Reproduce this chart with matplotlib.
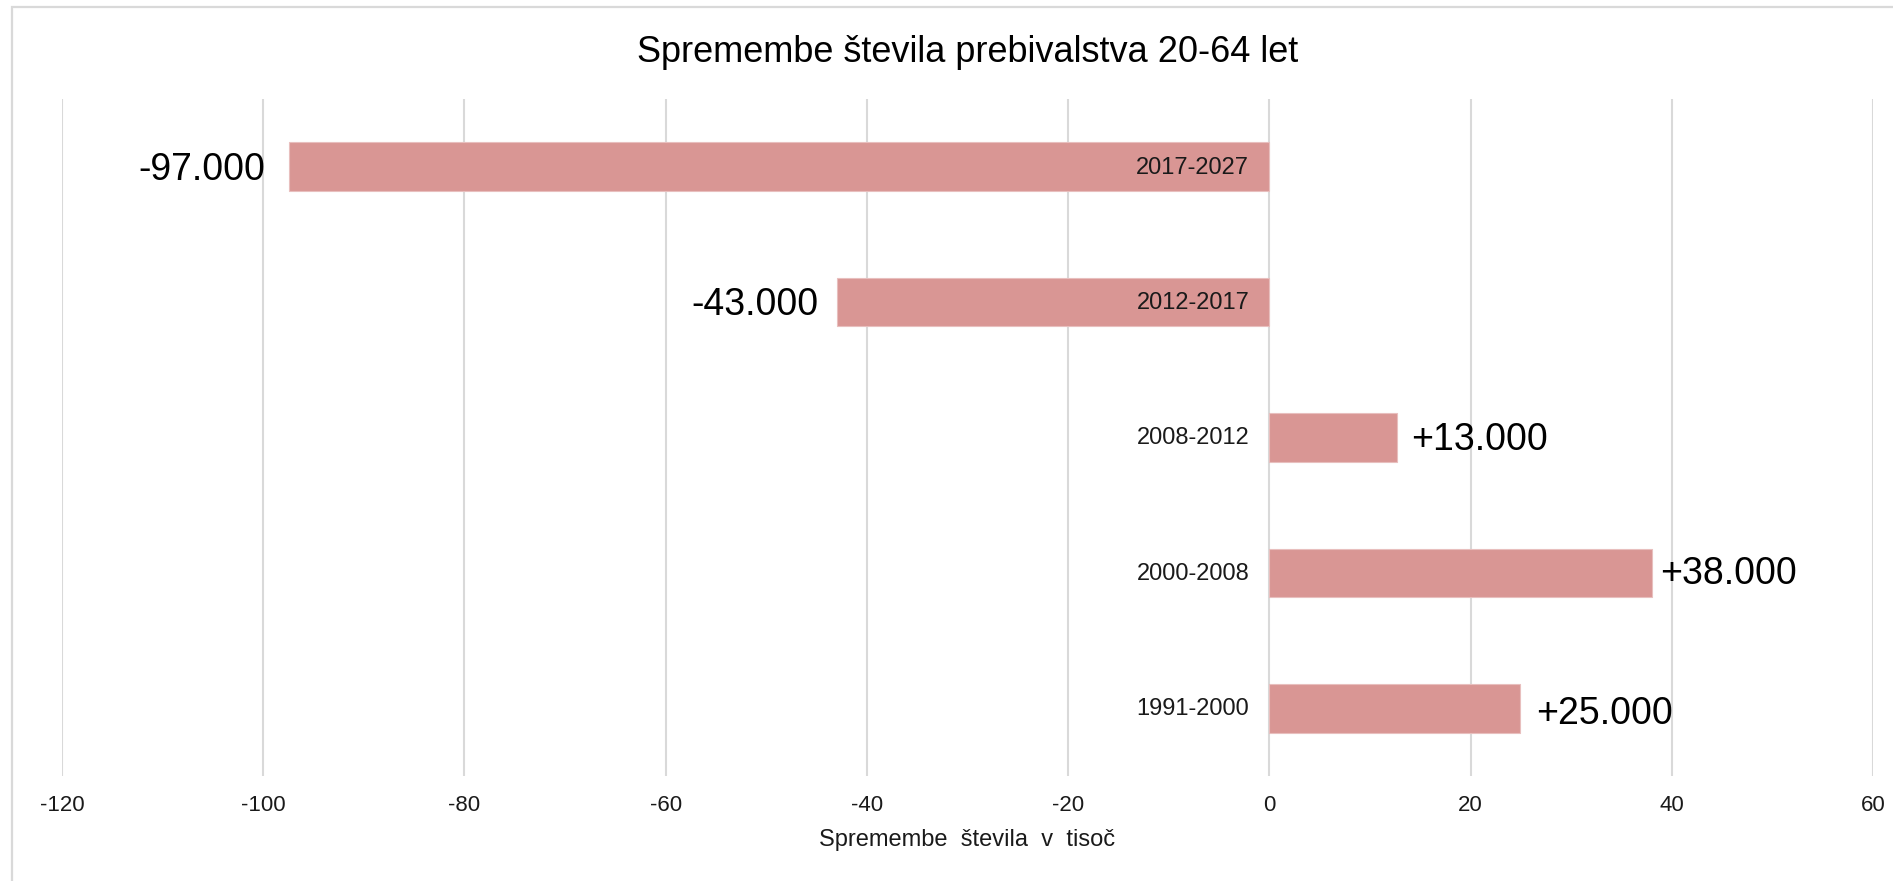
import matplotlib
matplotlib.use("Agg")
import matplotlib.pyplot as plt
from matplotlib.patches import Rectangle

# ---- data ----
periods = ["1991-2000", "2000-2008", "2008-2012", "2012-2017", "2017-2027"]
changes = [24.9, 38.0, 12.7, -43.0, -97.4]
value_labels = ["+25.000", "+38.000", "+13.000", "-43.000", "-97.000"]
xticks = [-120, -100, -80, -60, -40, -20, 0, 20, 40, 60]
title = "Spremembe števila prebivalstva 20-64 let"
xlabel = "Spremembe  števila  v  tisoč"

# ---- style ----
plt.rcParams['font.family'] = ['Liberation Sans', 'DejaVu Sans']
bar_color = "#D99694"
grid_color = "#D9D9D9"
label_offsets_px = [16, 8, 14, 18, 24]
label_dy_px = [-6, -1, -3, -3, -3]

W, H = 1893, 881
fig = plt.figure(figsize=(W / 100, H / 100), dpi=100)
fig.patch.set_facecolor("white")

# outer light border (left & top visible)
fig.patches.append(Rectangle((12 / W, -0.05), 1.2, (1 - 7 / H) + 0.05,
                             transform=fig.transFigure, fill=False,
                             edgecolor="#D9D9D9", linewidth=1.6))

ax = fig.add_axes([62 / W, 1 - 776 / H, (1873 - 62) / W, (776 - 99) / H])
ypos = list(range(len(periods)))
bars = ax.barh(ypos, changes, height=0.36, color=bar_color,
               edgecolor="#E8BFBE", linewidth=0.8, zorder=3)

ax.set_xlim(-120, 60)
ax.set_ylim(-0.5, len(periods) - 0.5)
ax.set_xticks(xticks)
ax.set_xticklabels([str(t) for t in xticks], fontsize=16, color="#1a1a1a")
ax.tick_params(axis="x", length=0, pad=14)
ax.set_yticks([])
ax.grid(axis="x", color=grid_color, linewidth=1.5, zorder=0)
ax.set_axisbelow(True)
for s in ax.spines.values():
    s.set_visible(False)

for i, (y, v) in enumerate(zip(ypos, changes)):
    off = label_offsets_px[i] * 72 / 100
    dy = label_dy_px[i] * 72 / 100
    ax.annotate(periods[i], xy=(0, y), xytext=(-20 * 0.72, -1 * 0.72),
                textcoords="offset points", ha="right", va="center",
                fontsize=17, color="#1a1a1a", zorder=4)
    if v < 0:
        ax.annotate(value_labels[i], xy=(v, y), xytext=(-off, dy),
                    textcoords="offset points", ha="right", va="center",
                    fontsize=27, color="black", zorder=4)
    else:
        ax.annotate(value_labels[i], xy=(v, y), xytext=(off, dy),
                    textcoords="offset points", ha="left", va="center",
                    fontsize=27, color="black", zorder=4)

fig.text((62 + 1873) / 2 / W, 1 - 53 / H, title, ha="center", va="center",
         fontsize=26, color="black")
fig.text((62 + 1873) / 2 / W, 1 - 840 / H, xlabel, ha="center", va="center",
         fontsize=17, color="#1a1a1a")

fig.savefig("out.png", dpi=100, facecolor="white")
